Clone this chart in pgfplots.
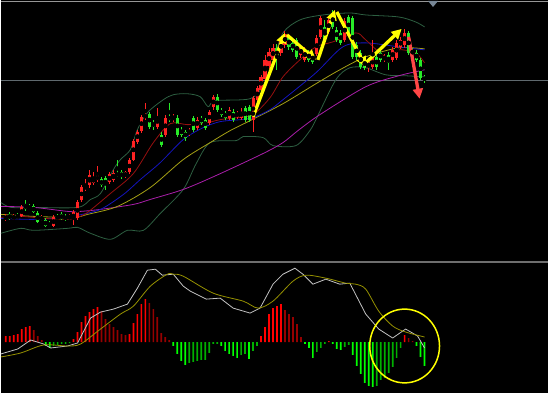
\documentclass[border=0pt]{standalone}
\usepackage{pgfplots}
\usepackage{pgfplotstable}
\pgfplotsset{compat=1.18}
\usetikzlibrary{arrows.meta}
\definecolor{cRed}{RGB}{255,35,35}
\definecolor{cGreen}{RGB}{40,235,40}
\definecolor{maA}{RGB}{150,15,15}
\definecolor{maB}{RGB}{20,20,190}
\definecolor{maC}{RGB}{165,160,20}
\definecolor{maD}{RGB}{170,30,170}
\definecolor{boll}{RGB}{45,95,65}
\definecolor{dif}{RGB}{195,195,195}
\definecolor{dea}{RGB}{150,145,0}
\definecolor{hR}{RGB}{255,0,0}
\definecolor{hDR}{RGB}{150,0,0}
\definecolor{hG}{RGB}{0,255,0}
\definecolor{hDG}{RGB}{0,175,0}
\definecolor{gridc}{RGB}{95,105,110}
\definecolor{arrY}{RGB}{255,255,0}
\definecolor{arrR}{RGB}{255,70,70}

\pgfplotsset{
  panel/.style={scale only axis, hide axis, width=549pt, xmin=-1.25, xmax=136, clip=true, anchor=south west},
  wick/.style={only marks, mark=none, error bars/.cd, y dir=both, y explicit, error mark=none,
    error bar style={#1, line width=1pt}},
  body/.style={only marks, mark=none, error bars/.cd, y dir=both, y explicit, error mark=none,
    error bar style={#1, line width=3.1pt}},
  hbar/.style={ybar, bar width=1.7pt, bar shift=0pt, draw=none, fill=#1}
}

% up (red) candles: index, open, high, low, close
\pgfplotstableread{
i o h l c
0 42 47 40 45
2 43 47 41 45
4 45 56 44 54
9 42 46 40 44
12 35 46 34 44
16 43 47 42 45
17 42 51 36 49
18 43 61 41 59
19 61 76 59 74
20 72 82 70 76
21 76 92 73 86
22 78 90 76 84
23 81 96 79 86
26 79 90 77 87
27 81 92 79 88
30 85 91 83 89
31 89 104 87 102
32 102 123 101 121
33 120 132 118 130
34 131 147 129 145
35 144 159 142 147
38 135 154 133 145
40 127 147 125 144
42 142 148 140 145
46 128 134 126 130
48 134 145 132 142
51 139 152 137 150
52 155 167 152 165
56 144 155 142 152
58 145 151 143 149
59 144 154 142 150
62 142 166 130 164
63 162 176 159 174
64 172 187 170 185
65 183 207 181 202
66 196 214 193 210
67 202 218 199 214
69 209 225 206 222
70 217 231 214 228
74 207 217 204 214
75 202 215 200 212
78 208 227 206 224
79 225 246 223 244
81 230 245 228 242
85 222 244 220 241
91 194 202 190 200
92 195 222 193 204
95 202 208 200 205
97 202 215 200 212
98 204 222 202 219
99 215 225 213 222
100 217 233 214 229
}\candUp

% down (green) candles
\pgfplotstableread{
i o h l c
1 47 49 41 42
3 46 48 42 44
5 57 61 50 52
6 55 57 51 52
7 55 57 48 49
8 48 50 38 39
10 41 43 34 35
11 38 40 34 35
13 45 47 41 43
14 47 49 41 42
15 45 47 40 42
24 82 84 74 76
25 83 85 71 76
28 88 102 84 86
29 89 92 82 84
36 148 150 133 135
37 139 142 132 135
39 127 130 115 117
41 145 159 140 142
43 144 147 125 127
44 132 135 125 127
45 130 132 121 124
47 144 146 130 132
49 144 146 137 139
50 142 144 132 134
53 165 168 150 152
54 152 154 145 147
55 149 151 142 144
57 150 153 140 142
60 154 156 140 142
61 155 157 140 142
68 214 218 192 204
71 225 227 212 215
72 219 222 210 212
73 222 224 203 205
76 209 212 200 202
77 207 210 198 200
80 235 242 220 222
82 249 252 233 235
83 232 235 220 222
84 229 232 217 219
86 245 247 227 229
87 244 246 203 205
88 217 220 202 205
89 209 212 193 195
90 202 205 192 194
93 205 207 192 195
94 209 212 200 202
96 207 210 192 199
101 229 231 207 209
102 212 214 205 208
103 209 212 200 202
104 202 204 182 184
105 185 187 179 181
}\candDn

% MACD histogram, split by colour class
\pgfplotstableread{
i m
0 6
1 6
2 7
3 8
4 13
5 15
6 16
17 3
18 10
19 20
20 26
21 30
22 33
23 35
31 8
32 19
33 28
34 38
35 43
64 6
65 15
66 28
67 34
68 36
69 38
81 1
100 7
}\barBR
\pgfplotstableread{
i m
7 12
8 6
9 2
24 31
25 23
26 18
27 15
28 12
29 8
30 7
36 39
37 33
38 25
39 9
40 5
41 2
70 32
71 28
72 25
73 18
74 5
101 4
102 1
}\barDR
\pgfplotstableread{
i m
10 -4
11 -6
42 -4
43 -12
44 -19
45 -23
54 -4
55 -9
56 -12
57 -14
58 -16
61 -17
75 -2
76 -6
77 -16
82 -2
83 -7
84 -8
87 -13
88 -24
89 -32
90 -41
91 -44
92 -45
103 -4
104 -15
105 -24
}\barBG
\pgfplotstableread{
i m
12 -4
13 -3
14 -2
15 -2
16 -1
46 -21
47 -20
48 -19
49 -18
50 -18
51 -11
52 -2
53 -2
59 -13
60 -12
62 -9
63 -4
78 -10
79 -6
80 -2
85 -5
86 -3
93 -44
94 -38
95 -36
96 -31
97 -25
98 -16
99 -6
}\barDG

\begin{document}
\begin{tikzpicture}[x=1pt,y=1pt]
\fill[black] (0,0) rectangle (549,394);

% ---------------- price panel ----------------
\begin{axis}[panel, at={(0pt,132pt)}, height=260pt, ymin=0, ymax=260]
\addplot[gridc, line width=0.9pt] coordinates {(-1.25,181) (136,181)};
% Bollinger bands
\addplot[boll, line width=0.8pt, smooth] coordinates {
(-1.25,59) (1.25,54) (7,54) (18,54) (21.25,62) (23.75,68) (27,92) (28.75,102)
(31.25,112) (33,132) (35.5,149) (39.5,162) (42,167) (45.5,168) (48.75,165)
(50.75,155) (52.5,161) (61.25,163) (64.5,176) (67,200) (69.5,229) (73.75,242)
(79.5,247) (86.25,249) (90.25,247) (98.5,245) (102.75,240) (105,235)};
\addplot[boll, line width=0.8pt, smooth] coordinates {
(-1.25,28) (3.75,33) (7,31) (15.5,33) (18,34) (21.25,28) (26.25,22) (30.5,31)
(34.5,31) (38.75,48) (44.5,72) (47.75,98) (51.25,119) (57.75,121) (59.5,125)
(64.5,124) (67,116) (72.75,116) (76.25,131) (77.75,142) (82.75,182) (86.25,194)
(90.25,194) (95.25,187) (100.25,186) (105,185)};
% MA60 (purple)
\addplot[maD, line width=0.8pt, smooth] coordinates {
(-1.25,55) (7,54) (15.5,50) (18.75,50) (23.75,52) (32,57) (36.25,62) (44.5,72)
(52.75,86) (64.5,108) (69.5,119) (73.25,131) (78.75,147) (90.25,175) (98.5,186) (105,192)};
% MA30 (olive)
\addplot[maC, line width=0.8pt, smooth] coordinates {
(-1.25,47) (7,45) (17,44) (20.5,47) (28,55) (36.25,74) (44.5,102) (51.25,119)
(56.25,131) (61.25,141) (69.5,158) (77.75,178) (83.75,192) (90.25,205) (98.5,214) (105,213)};
% MA10 (blue)
\addplot[maB, line width=0.8pt, smooth] coordinates {
(-1.25,43) (7,42) (15.5,44) (18,46) (23.75,52) (29.5,67) (33.75,82) (38.75,99)
(44.5,122) (49.5,134) (53.75,140) (58.75,142) (62,144) (66.25,152) (69.5,162)
(77.75,189) (84.5,215) (90.25,219) (98.5,215) (105,212)};
% MA5 (dark red)
\addplot[maA, line width=0.8pt, smooth] coordinates {
(-1.25,44) (3.75,45) (9.5,43) (15.5,42) (18,44) (20.5,49) (26.25,68) (32,88)
(37,119) (41.25,138) (45.5,137) (49.5,138) (53.75,142) (58,144) (62,147)
(66.25,164) (69.5,185) (73.75,202) (77.75,215) (82,220) (87.75,229) (90.25,222)
(95.25,205) (98.5,212) (102.75,209) (105,199)};
% candles: wicks then bodies
\addplot[wick=cRed] table[x=i, y expr={(\thisrow{h}+\thisrow{l})/2}, y error expr={(\thisrow{h}-\thisrow{l})/2}] {\candUp};
\addplot[wick=cGreen] table[x=i, y expr={(\thisrow{h}+\thisrow{l})/2}, y error expr={(\thisrow{h}-\thisrow{l})/2}] {\candDn};
\addplot[body=cRed] table[x=i, y expr={(\thisrow{o}+\thisrow{c})/2}, y error expr={abs(\thisrow{c}-\thisrow{o})/2}] {\candUp};
\addplot[body=cGreen] table[x=i, y expr={(\thisrow{o}+\thisrow{c})/2}, y error expr={abs(\thisrow{o}-\thisrow{c})/2}] {\candDn};
% annotation arrows
\draw[arrY, line width=3.3pt, -{Triangle[length=10pt,width=10pt]}] (axis cs:62,145) -- (axis cs:70,229);
\draw[arrY, line width=3.3pt, -{Triangle[length=10pt,width=10pt]}] (axis cs:70.5,227) -- (axis cs:77.75,202);
\draw[arrY, line width=3.3pt, -{Triangle[length=10pt,width=10pt]}] (axis cs:78.25,202) -- (axis cs:82.5,252);
\draw[arrY, line width=3.3pt, -{Triangle[length=10pt,width=10pt]}] (axis cs:83,250) -- (axis cs:90.25,195);
\draw[arrY, line width=3.3pt, -{Triangle[length=10pt,width=10pt]}] (axis cs:90.25,199) -- (axis cs:99.25,233);
\draw[arrR, line width=3.3pt, -{Triangle[length=10pt,width=10pt]}] (axis cs:101,225) -- (axis cs:103.75,163);
\end{axis}

% ---------------- MACD panel ----------------
\begin{axis}[panel, at={(0pt,0pt)}, height=130pt, ymin=-51, ymax=79]
\addplot[hbar=hR] table[x=i, y=m] {\barBR};
\addplot[hbar=hDR] table[x=i, y=m] {\barDR};
\addplot[hbar=hG] table[x=i, y=m] {\barBG};
\addplot[hbar=hDG] table[x=i, y=m] {\barDG};
% DIF
\addplot[dif, line width=0.8pt] coordinates {
(-1.25,-12) (3,-7) (6.25,2) (9.5,-2) (11.25,-6) (15.5,-4) (18,-1) (21.25,24)
(23.75,30) (27,33) (30.5,38) (33,54) (35.5,72) (37.5,73) (39.25,67) (42,68)
(44.5,56) (46.25,51) (50.25,43) (53.75,44) (57,34) (61.25,29) (63.75,34) (67,58)
(69.5,68) (72.5,74) (74.5,68) (77,58) (80.25,63) (83.75,58) (86.25,59) (90.25,28)
(93.5,13) (97,4) (100.25,13) (103.25,6) (105,-6)};
% DEA
\addplot[dea, line width=0.8pt, smooth] coordinates {
(-1.25,-15) (3.75,-11) (9.5,-3) (15.5,-4) (18.75,-2) (23.75,13) (28.75,28)
(32,36) (36.25,56) (40.5,68) (42,68) (44.5,66) (52,49) (59.5,41) (63.25,34)
(67,41) (72,61) (75.25,67) (80.25,64) (85.25,59) (87.75,58) (90.25,53) (93.5,31)
(97,16) (100.25,10) (105,5)};
\end{axis}

% frame lines and marker
\draw[color={rgb,255:red,150;green,150;blue,150}, line width=1.2pt] (0,392.5) -- (549,392.5);
\draw[color={rgb,255:red,110;green,110;blue,110}, line width=1.6pt] (0,131.2) -- (549,131.2);
\fill[color={rgb,255:red,120;green,135;blue,150}] (428.5,393) -- (438.5,393) -- (433.5,387) -- cycle;
% highlight circle
\draw[arrY, line width=1.5pt] (405,47) ellipse [x radius=35, y radius=37];
\end{tikzpicture}
\end{document}
